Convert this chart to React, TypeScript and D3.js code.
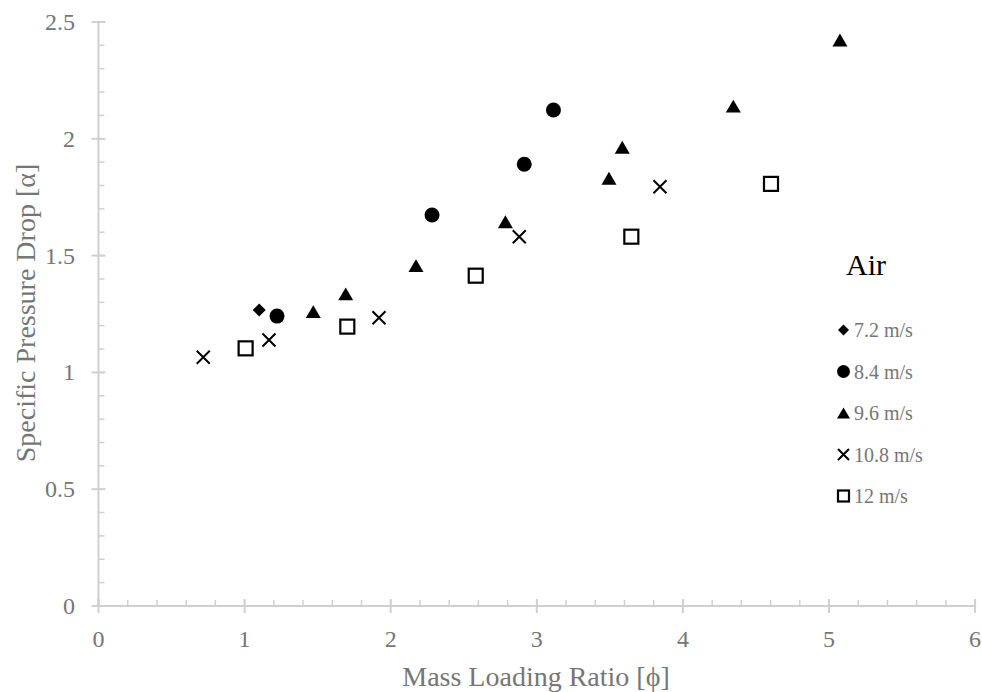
import React from "react";
import * as d3 from "d3";

const xTicks = [0, 1, 2, 3, 4, 5, 6];
const yTicks = [0, 0.5, 1, 1.5, 2, 2.5];

const s72x = [1.1];
const s72y = [1.267];
const s84x = [1.222, 2.283, 2.914, 3.114];
const s84y = [1.241, 1.674, 1.891, 2.123];
const s96x = [1.47, 1.692, 2.173, 2.785, 3.494, 3.585, 4.345, 5.075];
const s96y = [1.26, 1.336, 1.457, 1.645, 1.831, 1.964, 2.14, 2.423];
const s108x = [0.717, 1.167, 1.92, 2.88, 3.843];
const s108y = [1.065, 1.139, 1.234, 1.581, 1.795];
const s12x = [1.007, 1.703, 2.582, 3.647, 4.603];
const s12y = [1.103, 1.196, 1.414, 1.581, 1.807];

const seriesLabels = ["7.2 m/s", "8.4 m/s", "9.6 m/s", "10.8 m/s", "12 m/s"];
const seriesKinds = ["diamond", "circle", "triangle", "cross", "square"];

const W = 982;
const H = 692;
const FONT = "'Liberation Serif', 'Times New Roman', serif";
const AXIS = "#d0d0d0";
const TXT = "#767676";

function Marker({ kind, cx, cy, s }: { kind: string; cx: number; cy: number; s: number }) {
  if (kind === "diamond") {
    const r = s * 0.5;
    return <path d={`M${cx},${cy - r}L${cx + r},${cy}L${cx},${cy + r}L${cx - r},${cy}Z`} fill="#000" />;
  }
  if (kind === "circle") return <circle cx={cx} cy={cy} r={s / 2} fill="#000" />;
  if (kind === "triangle") {
    const hw = s / 2;
    const hh = s * 0.43;
    return <path d={`M${cx},${cy - hh}L${cx + hw},${cy + hh}L${cx - hw},${cy + hh}Z`} fill="#000" />;
  }
  if (kind === "cross") {
    const r = s / 2;
    return (
      <path
        d={`M${cx - r},${cy - r}L${cx + r},${cy + r}M${cx - r},${cy + r}L${cx + r},${cy - r}`}
        stroke="#000"
        strokeWidth={2}
        fill="none"
      />
    );
  }
  const r = s / 2;
  return <rect x={cx - r} y={cy - r} width={s} height={s} fill="#fff" stroke="#000" strokeWidth={2.2} />;
}

export default function App() {
  const x = d3.scaleLinear().domain([0, 6]).range([98.5, 975.1]);
  const y = d3.scaleLinear().domain([0, 2.5]).range([606, 22]);

  const xMinor = d3.range(0, 6.0001, 0.2);
  const yMinor = d3.range(0, 2.5001, 0.1);

  const series = [
    { xs: s72x, ys: s72y, size: 13 },
    { xs: s84x, ys: s84y, size: 15 },
    { xs: s96x, ys: s96y, size: 15 },
    { xs: s108x, ys: s108y, size: 13 },
    { xs: s12x, ys: s12y, size: 14 },
  ];
  const legendSizes = [11, 13, 13, 11, 11];

  return (
    <svg width={W} height={H} style={{ position: "absolute", left: 0, top: 0, background: "#fff" }}>
      <rect width={W} height={H} fill="#fff" />
      <line x1={x(0)} x2={x(6)} y1={y(0)} y2={y(0)} stroke={AXIS} strokeWidth={2} />
      <line x1={x(0)} x2={x(0)} y1={y(0)} y2={y(2.5)} stroke={AXIS} strokeWidth={2} />
      {xMinor.map((v, i) => (
        <line key={"xm" + i} x1={x(v)} x2={x(v)} y1={y(0)} y2={y(0) - 6} stroke={AXIS} strokeWidth={1.5} />
      ))}
      {xTicks.map((v) => (
        <line key={"xt" + v} x1={x(v)} x2={x(v)} y1={y(0) - 7} y2={y(0) + 7} stroke={AXIS} strokeWidth={2} />
      ))}
      {yMinor.map((v, i) => (
        <line key={"ym" + i} x1={x(0)} x2={x(0) + 6} y1={y(v)} y2={y(v)} stroke={AXIS} strokeWidth={1.5} />
      ))}
      {yTicks.map((v) => (
        <line key={"yt" + v} x1={x(0) - 7} x2={x(0) + 7} y1={y(v)} y2={y(v)} stroke={AXIS} strokeWidth={2} />
      ))}
      {xTicks.map((v) => (
        <text key={"xl" + v} x={x(v)} y={647} textAnchor="middle" fontFamily={FONT} fontSize={24} fill={TXT}>
          {v}
        </text>
      ))}
      {yTicks.map((v) => (
        <text key={"yl" + v} x={75} y={y(v) + 8} textAnchor="end" fontFamily={FONT} fontSize={24} fill={TXT}>
          {v}
        </text>
      ))}
      <text x={536} y={686} textAnchor="middle" fontFamily={FONT} fontSize={28} fill={TXT}>
        Mass Loading Ratio [ϕ]
      </text>
      <text
        transform={`translate(35,313) rotate(-90)`}
        textAnchor="middle"
        fontFamily={FONT}
        fontSize={28}
        fill={TXT}
      >
        Specific Pressure Drop [α]
      </text>
      {series.map((s, si) =>
        s.xs.map((xv, i) => (
          <Marker key={si + "-" + i} kind={seriesKinds[si]} cx={x(xv)} cy={y(s.ys[i])} s={s.size} />
        ))
      )}
      <text x={846} y={275} fontFamily={FONT} fontSize={30} fill="#000">
        Air
      </text>
      {seriesLabels.map((lab, i) => {
        const cy = 330 + i * 41.5;
        return (
          <g key={lab}>
            <Marker kind={seriesKinds[i]} cx={843.5} cy={cy} s={legendSizes[i]} />
            <text x={854} y={cy + 7} fontFamily={FONT} fontSize={20} fill={TXT}>
              {lab}
            </text>
          </g>
        );
      })}
    </svg>
  );
}
